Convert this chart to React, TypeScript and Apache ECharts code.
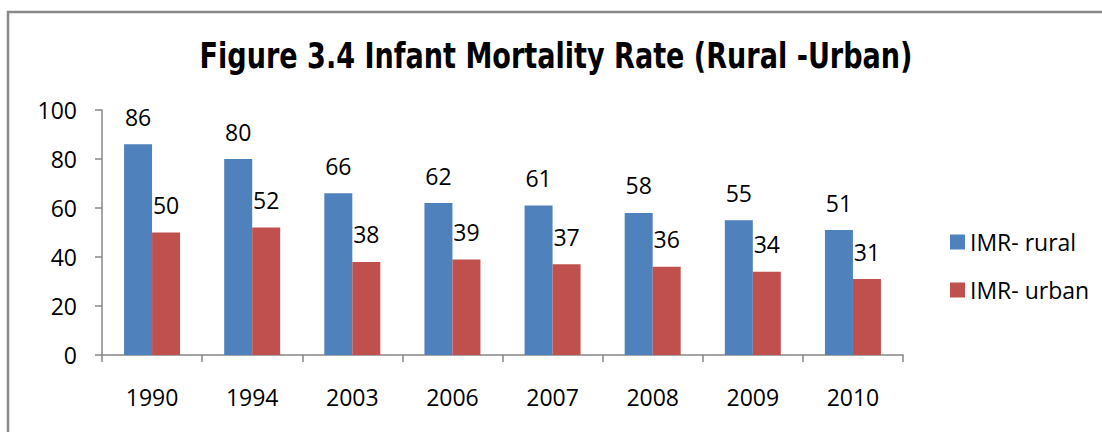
import React, { useEffect, useRef } from "react";
import * as echarts from "echarts";

const categories = ["1990", "1994", "2003", "2006", "2007", "2008", "2009", "2010"];
const ruralValues = [86, 80, 66, 62, 61, 58, 55, 51];
const urbanValues = [50, 52, 38, 39, 37, 36, 34, 31];
const seriesNames = ["IMR- rural", "IMR- urban"];
const titleText = "Figure 3.4 Infant Mortality Rate (Rural -Urban)";

const FONT = "'Open Sans', 'Noto Sans', sans-serif";

export default function App() {
  const ref = useRef<HTMLDivElement>(null);
  useEffect(() => {
    document.body.style.margin = "0";
    if (!ref.current) return;
    const chart = echarts.init(ref.current, null, { renderer: "svg" });
    const labelStyle = {
      show: true,
      position: "top" as const,
      distance: 16,
      color: "#000",
      fontSize: 23,
      fontFamily: FONT,
      lineHeight: 23,
    };
    chart.setOption({
      animation: false,
      backgroundColor: "#fff",
      textStyle: { fontFamily: FONT },
      graphic: [
        {
          type: "rect",
          shape: { x: 8, y: 12, width: 1300, height: 600 },
          style: { fill: "none", stroke: "#898989", lineWidth: 2.5 },
          silent: true,
        },
        {
          type: "text",
          x: 556,
          y: 56,
          scaleX: 0.86,
          style: {
            text: titleText,
            fill: "#000",
            font: "bold 35px 'DejaVu Sans Condensed', 'DejaVu Sans', sans-serif",
            align: "center",
            verticalAlign: "middle",
          },
        },
      ],
      grid: { left: 102, right: 199, top: 110, bottom: 77, containLabel: false },
      legend: {
        orient: "vertical",
        left: 945,
        top: 225,
        itemWidth: 15,
        itemHeight: 15,
        itemGap: 24,
        icon: "rect",
        data: seriesNames,
        textStyle: { color: "#000", fontSize: 23, fontFamily: FONT, lineHeight: 24 },
      },
      xAxis: {
        type: "category",
        data: categories,
        axisLine: { lineStyle: { color: "#878787", width: 1.5 } },
        axisTick: { show: true, length: 7, lineStyle: { color: "#878787", width: 1.5 } },
        axisLabel: { color: "#000", fontSize: 23, fontFamily: FONT, margin: 30, lineHeight: 23 },
      },
      yAxis: {
        type: "value",
        min: 0,
        max: 100,
        interval: 20,
        splitLine: { show: false },
        axisLine: { show: true, lineStyle: { color: "#878787", width: 1.5 } },
        axisTick: { show: true, length: 7, lineStyle: { color: "#878787", width: 1.5 } },
        axisLabel: { color: "#000", fontSize: 23, fontFamily: FONT, margin: 25 },
      },
      series: [
        {
          name: seriesNames[0],
          type: "bar",
          data: ruralValues,
          barWidth: 28,
          barGap: "0%",
          itemStyle: { color: "#4F81BD" },
          label: labelStyle,
        },
        {
          name: seriesNames[1],
          type: "bar",
          data: urbanValues,
          barWidth: 28,
          barGap: "0%",
          itemStyle: { color: "#C0504D" },
          label: labelStyle,
        },
      ],
    });
    return () => chart.dispose();
  }, []);
  return <div ref={ref} style={{ width: 1102, height: 432 }} />;
}
